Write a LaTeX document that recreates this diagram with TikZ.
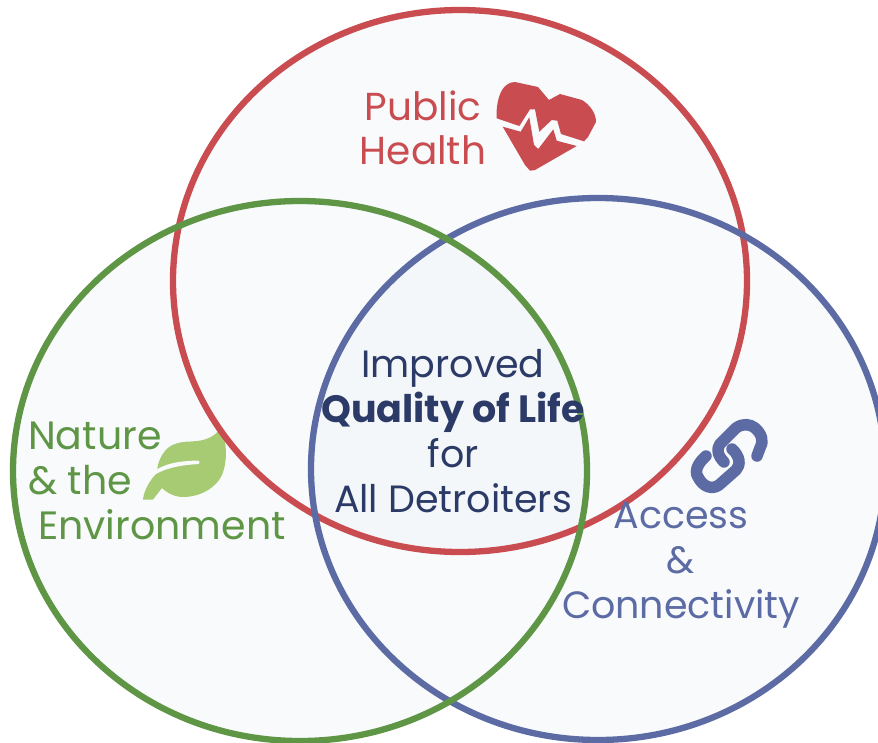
\documentclass[tikz,border=0pt]{standalone}
\usepackage{fontspec}
\setmainfont{Poppins}
\definecolor{redc}{HTML}{C94C50}
\definecolor{greenc}{HTML}{5F9646}
\definecolor{bluec}{HTML}{5C6BA4}
\definecolor{navy}{HTML}{2B3A67}
\definecolor{leafc}{HTML}{A6CB72}
\definecolor{fillc}{HTML}{F8FAFC}
\definecolor{overc}{HTML}{F4F7F9}
\tikzset{
  ring/.style={line width=6.3pt,draw=#1},
  lab/.style={font=\fontsize{38}{45}\selectfont,text=#1,inner sep=0pt,align=center},
  linkline/.style={draw=bluec,line width=11.5pt,line cap=round,line join=round},
}
\begin{document}
\begin{tikzpicture}[x=1pt,y=-1pt]
\useasboundingbox (0,0) rectangle (878,742);
\fill[white] (0,0) rectangle (878,742);
\fill[fillc] (460,281) ellipse [x radius=287,y radius=271];
\fill[fillc] (300,471) ellipse [x radius=287,y radius=270];
\fill[fillc] (598,469) ellipse [x radius=287,y radius=271];
\begin{scope}
\clip (460,281) ellipse [x radius=287,y radius=271];
\clip (300,471) ellipse [x radius=287,y radius=270];
\fill[overc] (598,469) ellipse [x radius=287,y radius=271];
\end{scope}
% leaf (beneath the red ring)
\fill[leafc] (143,499.5) .. controls (144,490) and (150,480) .. (157,473)
  .. controls (157,460) and (165,447) .. (175,444)
  .. controls (182,441) and (190,442) .. (197,441)
  .. controls (207,440) and (215,436) .. (220,429)
  .. controls (227,440) and (228,460) .. (222,475)
  .. controls (216,488) and (200,497) .. (183,497)
  .. controls (175,497) and (167,493) .. (162,488) -- (153,499.5) -- cycle;
\fill[fillc] (155,470.5) .. controls (168,462) and (183,461) .. (198,460.5)
  .. controls (200,460.5) and (200.5,463.5) .. (198.5,464)
  .. controls (183,465) and (168,467) .. (155,474.5) -- cycle;
\draw[ring=redc] (460,281) ellipse [x radius=287,y radius=271];
\draw[ring=bluec] (598,469) ellipse [x radius=287,y radius=271];
\draw[ring=greenc] (300,471) ellipse [x radius=287,y radius=270];
\node[lab=redc,font=\fontsize{39}{44}\selectfont] (pub) at (423,128) {Public\\Health};
\node[lab=greenc,align=left,font=\fontsize{39.5}{45}\selectfont] (nat) at (157,481) {Nature\\\& the\\\hspace*{10pt}Environment};
\node[lab=bluec] (acc) at (681,565) {Access\\\&\\Connectivity};
\node[lab=navy] (imp) at (453,431) {Improved\\\textbf{Quality of Life}\\for\\All Detroiters};
% heart
\fill[redc] (496.7,118.3) .. controls (496,108) and (498,97) .. (502,90)
  .. controls (505,85) and (510,82) .. (515,82) -- (538,87) -- (549,100) -- (560,94) -- (582,100)
  .. controls (590,105) and (596,113) .. (596,122) -- (588,137) -- (584,141.3)
  -- (561,134) -- (557.3,120.7) -- (551.7,120) -- (539.3,131.7) -- (535,109.3) -- (530,109.3) -- (519.3,126) -- cycle;
\fill[redc] (502.7,126.7) -- (520.7,131.7) -- (529.3,117.3) -- (534,145) -- (538.3,149)
  -- (553.3,129.3) -- (556.7,140.7) -- (576.7,146) -- (535,170) -- (530,170.7) -- (525,165) -- cycle;
% link
\draw[linkline] (724,462) .. controls (718,456) and (716,449) .. (720,444) -- (736,428)
  .. controls (743,423) and (750,424) .. (755,428) .. controls (762,434) and (764,442) .. (760,448) -- (757,456);
\draw[linkline] (706,456) .. controls (698,463) and (694,471) .. (698,477)
  .. controls (703,487) and (712,490) .. (719,485) -- (736,470)
  .. controls (741,465) and (740,456) .. (732,449);
\end{tikzpicture}
\end{document}
